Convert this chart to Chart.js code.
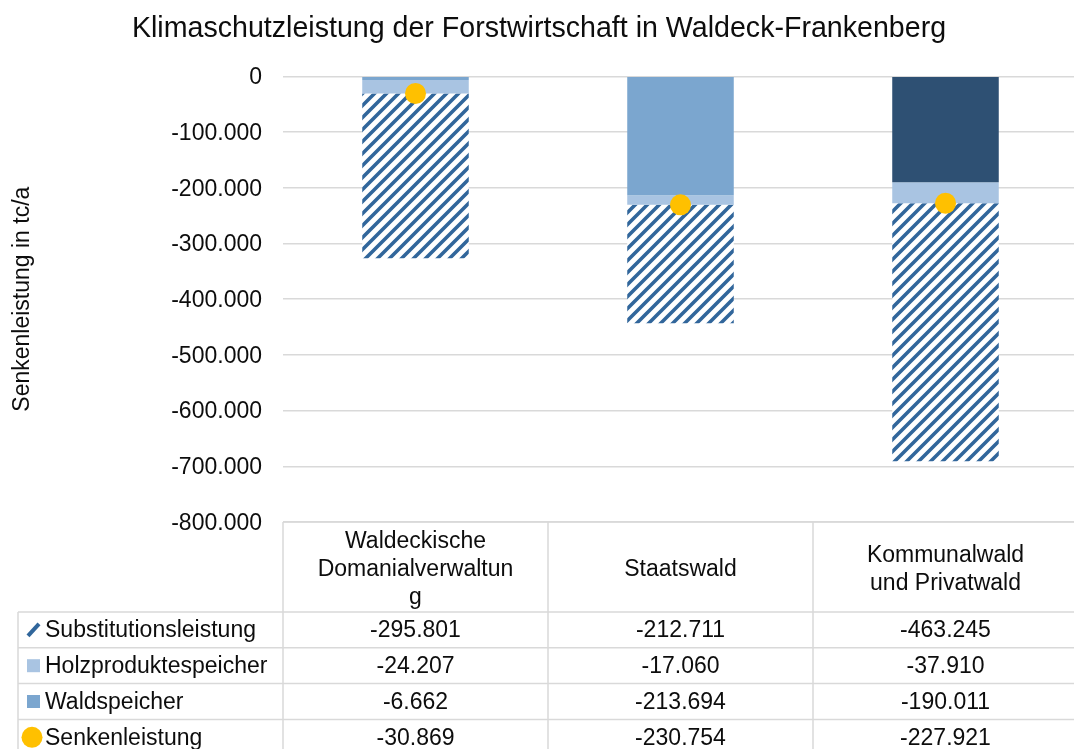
<!DOCTYPE html>
<html>
<head>
<meta charset="utf-8">
<script src="https://cdn.jsdelivr.net/npm/chart.js@4/dist/chart.umd.min.js"></script>
<style>
html,body{margin:0;padding:0;overflow:hidden;background:#fff;}
#wrap{position:relative;width:1080px;height:749px;}
canvas{display:block;}
</style>
</head>
<body>
<div id="wrap"><canvas id="c"></canvas></div>
<script>
// ---- data ----
const categories = [['Waldeckische','Domanialverwaltun','g'], 'Staatswald', ['Kommunalwald','und Privatwald']];
const seriesNames = ['Substitutionsleistung','Holzproduktespeicher','Waldspeicher','Senkenleistung'];
const substitution = [-295801, -212711, -463245];
const holzprodukte = [-24207, -17060, -37910];
const waldspeicher = [-6662, -213694, -190011];
const senkenleistung = [-30869, -230754, -227921];
const yMin = -800000, yMax = 0, yStep = 100000;
const chartTitle = 'Klimaschutzleistung der Forstwirtschaft in Waldeck-Frankenberg';
const yTitle = 'Senkenleistung in tc/a';

// ---- style ----
const FONT = "'Liberation Sans', Arial, sans-serif";
const TXT = '#0d0d0d';
const GRID = '#D9D9D9';
const C_HOLZ = '#A9C4E2';
const C_WALD = '#7BA6CF';
const C_WALD_DARK = '#2E5073';
const C_STRIPE = '#31669B';
const C_POINT = '#FFC000';

function fmt(v){
  const s = Math.abs(Math.round(v)).toString().replace(/\B(?=(\d{3})+(?!\d))/g,'.');
  return (v < 0 ? '-' : '') + s;
}

const canvas = document.getElementById('c');
const ctx = canvas.getContext('2d');

function makeHatch(){
  const n = 12;
  const c = document.createElement('canvas'); c.width = n; c.height = n;
  const g = c.getContext('2d');
  g.fillStyle = '#fff'; g.fillRect(0,0,n,n);
  g.strokeStyle = C_STRIPE; g.lineWidth = 3.6;
  g.beginPath();
  g.moveTo(-4, n+4); g.lineTo(n+4, -4);
  g.moveTo(-4, 4); g.lineTo(4, -4);
  g.moveTo(n-4, n+4); g.lineTo(n+4, n-4);
  g.stroke();
  return ctx.createPattern(c, 'repeat');
}
const hatch = makeHatch();

const tablePlugin = {
  id: 'dataTable',
  afterDraw(chart){
    const g = chart.ctx;
    const a = chart.chartArea;
    const n = categories.length;
    const colW = (a.right - a.left) / n;
    const headTop = a.bottom;
    const headBot = 612;
    const rowH = 35.8;
    const rows = [substitution, holzprodukte, waldspeicher, senkenleistung];
    const tableLeft = 18;
    const tableBottom = headBot + rowH * rows.length;
    g.save();
    g.strokeStyle = GRID; g.lineWidth = 1.5;
    g.beginPath();
    g.moveTo(a.left, headTop); g.lineTo(a.right, headTop);
    for (let i = 0; i <= n; i++){
      const x = a.left + i*colW;
      g.moveTo(x, headTop); g.lineTo(x, tableBottom);
    }
    g.moveTo(tableLeft, headBot); g.lineTo(tableLeft, tableBottom);
    for (let r = 0; r <= rows.length; r++){
      const y = headBot + r*rowH;
      g.moveTo(tableLeft, y); g.lineTo(a.right, y);
    }
    g.stroke();

    g.fillStyle = TXT;
    g.textAlign = 'center'; g.textBaseline = 'middle';
    g.font = '23px ' + FONT;
    const hMid = (headTop + headBot)/2 + 2.5;
    categories.forEach((lab, i) => {
      const lines = Array.isArray(lab) ? lab : [lab];
      const cx = a.left + (i+0.5)*colW;
      const lh = 28;
      lines.forEach((ln, k) => {
        g.fillText(ln, cx, hMid + (k - (lines.length-1)/2)*lh);
      });
    });
    rows.forEach((vals, r) => {
      const cy = headBot + (r+0.5)*rowH + 1;
      vals.forEach((v, i) => {
        g.fillText(fmt(v), a.left + (i+0.5)*colW, cy);
      });
    });
    g.textAlign = 'left';
    seriesNames.forEach((name, r) => {
      const cy = headBot + (r+0.5)*rowH;
      g.fillStyle = TXT;
      g.fillText(name, 45, cy + 1);
      if (r === 0){
        g.strokeStyle = C_STRIPE; g.lineWidth = 4;
        g.beginPath(); g.moveTo(28, cy+6); g.lineTo(39, cy-6); g.stroke();
      } else if (r === 1){
        g.fillStyle = C_HOLZ; g.fillRect(27, cy-6.5, 13, 13);
      } else if (r === 2){
        g.fillStyle = C_WALD; g.fillRect(27, cy-6.5, 13, 13);
      } else {
        g.fillStyle = C_POINT; g.beginPath(); g.arc(32, cy, 10.5, 0, Math.PI*2); g.fill();
      }
    });
    g.restore();
  }
};

new Chart(ctx, {
  type: 'bar',
  data: {
    labels: categories,
    datasets: [
      { type: 'line', label: seriesNames[3], data: senkenleistung, showLine: false, stack: 'pts', order: -1,
        pointRadius: 10.5, pointHoverRadius: 10.5, pointBackgroundColor: C_POINT, pointBorderWidth: 0, borderColor: C_POINT },
      { label: seriesNames[2], data: waldspeicher, stack: 'main', backgroundColor: [C_WALD, C_WALD, C_WALD_DARK], borderWidth: 0 },
      { label: seriesNames[1], data: holzprodukte, stack: 'main', backgroundColor: C_HOLZ, borderWidth: 0 },
      { label: seriesNames[0], data: substitution, stack: 'main', backgroundColor: hatch, borderWidth: 0 }
    ]
  },
  options: {
    responsive: true,
    maintainAspectRatio: false,
    animation: false,
    devicePixelRatio: 1,
    layout: { autoPadding: false, padding: { left: 0, right: 2, top: 0, bottom: 227 } },
    datasets: { bar: { categoryPercentage: 1, barPercentage: 0.402 } },
    plugins: {
      legend: { display: false },
      tooltip: { enabled: false },
      title: { display: true, text: chartTitle, color: TXT,
        font: { family: FONT, size: 28.6, weight: 'normal' }, padding: { top: 12, bottom: 30 } }
    },
    scales: {
      x: { display: false, stacked: true },
      y: {
        stacked: true, min: yMin, max: yMax,
        afterFit(s){ s.width = 283; },
        border: { display: false },
        grid: { color: GRID, lineWidth: 1.5, drawTicks: false },
        ticks: { stepSize: yStep, padding: 21, labelOffset: 1.5, color: TXT, font: { family: FONT, size: 23 },
          callback: v => fmt(v) },
        title: { display: true, text: yTitle, color: TXT, font: { family: FONT, size: 23 }, padding: { top: 9, bottom: 0 } }
      }
    }
  },
  plugins: [tablePlugin]
});
</script>
</body>
</html>
